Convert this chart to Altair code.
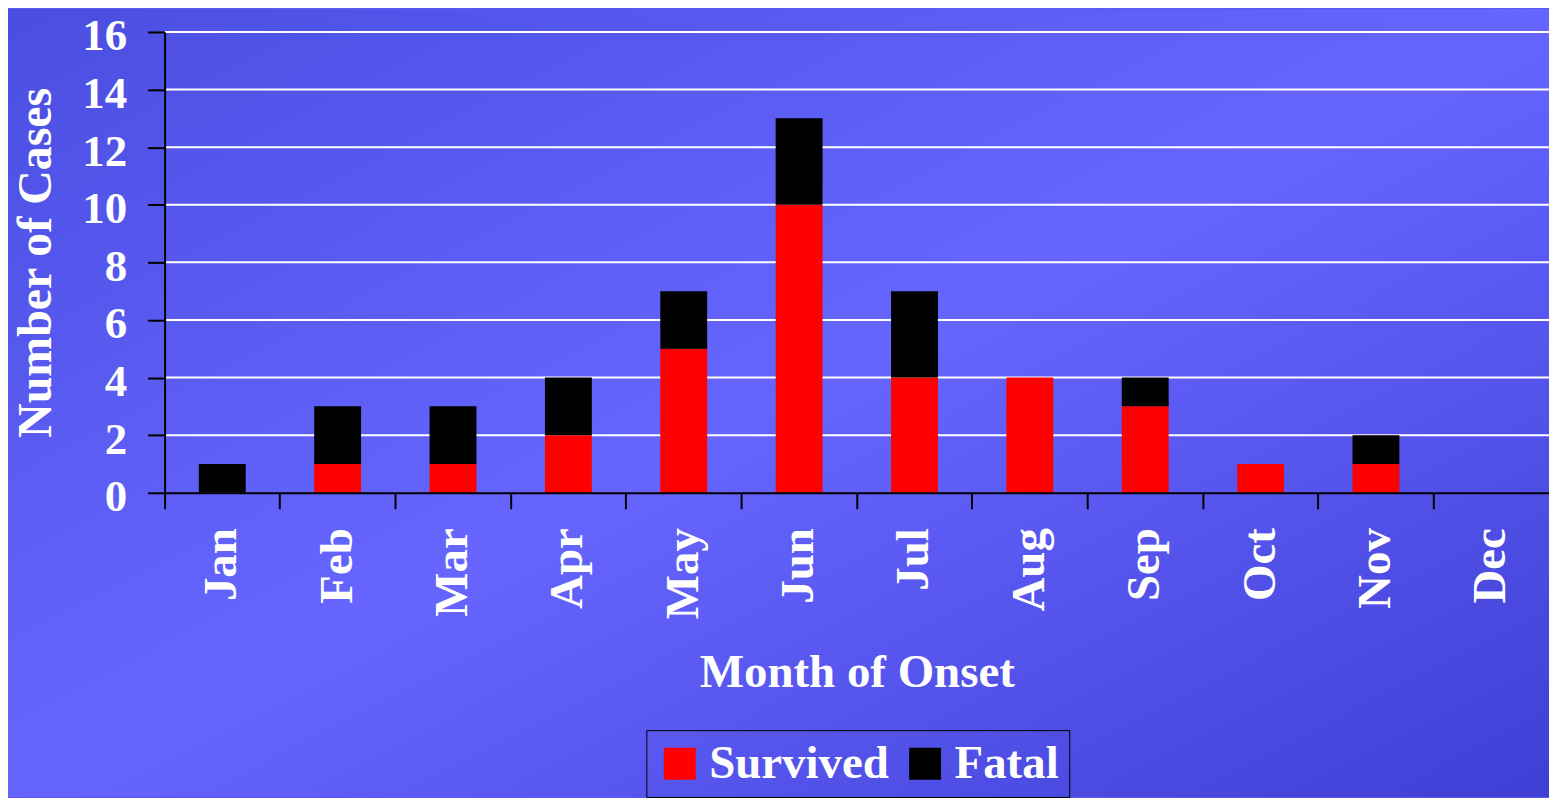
import altair as alt
import pandas as pd

months = ["Jan", "Feb", "Mar", "Apr", "May", "Jun", "Jul", "Aug", "Sep", "Oct", "Nov", "Dec"]
survived = [0, 1, 1, 2, 5, 10, 4, 4, 3, 1, 1, 0]
fatal = [1, 2, 2, 2, 2, 3, 3, 0, 1, 0, 1, 0]
series = ["Survived", "Fatal"]
series_colors = ["#ff0000", "#000000"]
grid_values = [2, 4, 6, 8, 10, 12, 14, 16]
y_ticks = [0, 2, 4, 6, 8, 10, 12, 14, 16]

rows = []
for m, s, f in zip(months, survived, fatal):
    rows.append({"month": m, "status": "Survived", "cases": s, "ord": 0})
    rows.append({"month": m, "status": "Fatal", "cases": f, "ord": 1})
df = pd.DataFrame(rows)
grid_df = pd.DataFrame({"cases": grid_values})

FONT = "Liberation Serif"
W, H = 1388, 462
PAD_L, PAD_T, PAD_R, PAD_B = 157, 23, 0, 305

bg_grad = alt.LinearGradient(
    gradient="linear",
    x1=0, y1=0, x2=1, y2=1,
    stops=[
        alt.GradientStop(offset=0, color="#4a4ee0"),
        alt.GradientStop(offset=0.5, color="#6666ff"),
        alt.GradientStop(offset=1, color="#3f3fd5"),
    ],
)

y_axis = alt.Axis(
    title="Number of Cases",
    titleFont=FONT, titleFontSize=48, titleFontWeight="bold", titleColor="white",
    titleAngle=270, titleBaseline="alphabetic", titleX=-114, titleY=H / 2, titleAlign="center",
    labelFont=FONT, labelFontSize=45, labelFontWeight="bold", labelColor="white",
    labelPadding=21, labelOffset=4, values=y_ticks,
    tickSize=17, tickColor="black", tickWidth=2,
    domainColor="black", domainWidth=2, grid=False, zindex=1,
)
y_scale = alt.Scale(domain=[0, 16], nice=False)

background = alt.Chart(pd.DataFrame({"a": [0]})).mark_rect(fill=bg_grad, strokeWidth=0).encode(
    x=alt.value(-PAD_L),
    x2=alt.value(W + PAD_R),
    y=alt.value(-PAD_T),
    y2=alt.value(H + PAD_B),
)

grid = alt.Chart(grid_df).mark_rule(color="white", strokeWidth=2).encode(
    y=alt.Y("cases:Q", scale=y_scale, axis=y_axis),
)

bars = alt.Chart(df).mark_bar(size=47).encode(
    x=alt.X(
        "month:N",
        sort=months,
        scale=alt.Scale(paddingInner=0, paddingOuter=0),
        axis=alt.Axis(
            title="Month of Onset",
            titleFont=FONT, titleFontSize=47, titleFontWeight="bold", titleColor="white",
            titleBaseline="alphabetic", titleY=194,
            labelFont=FONT, labelFontSize=47, labelFontWeight="bold", labelColor="white",
            labelAngle=270, labelPadding=19,
            bandPosition=0, tickSize=16, tickColor="black", tickWidth=2,
            domainColor="black", domainWidth=2, grid=False, zindex=1,
        ),
    ),
    y=alt.Y("cases:Q", stack="zero", scale=y_scale, axis=y_axis),
    color=alt.Color(
        "status:N",
        scale=alt.Scale(domain=series, range=series_colors),
        title=None,
        legend=alt.Legend(
            orient="none", legendX=483, legendY=700, direction="horizontal",
            strokeColor="black", padding=10,
            symbolType="square", symbolSize=1024, symbolStrokeWidth=0, symbolOpacity=1,
            labelFont=FONT, labelFontSize=47, labelFontWeight="bold", labelColor="white",
            labelOffset=6, columnPadding=12, labelLimit=400, zindex=1,
        ),
    ),
    order=alt.Order("ord:Q"),
)

chart = alt.layer(background, grid, bars).properties(
    width=W, height=H,
    padding={"left": PAD_L, "top": PAD_T, "right": PAD_R, "bottom": PAD_B},
    autosize=alt.AutoSizeParams(type="none"),
).configure_view(stroke=None).configure(background="#5a5af2")

chart.save("out.html", embed_options={"renderer": "svg", "actions": False})
